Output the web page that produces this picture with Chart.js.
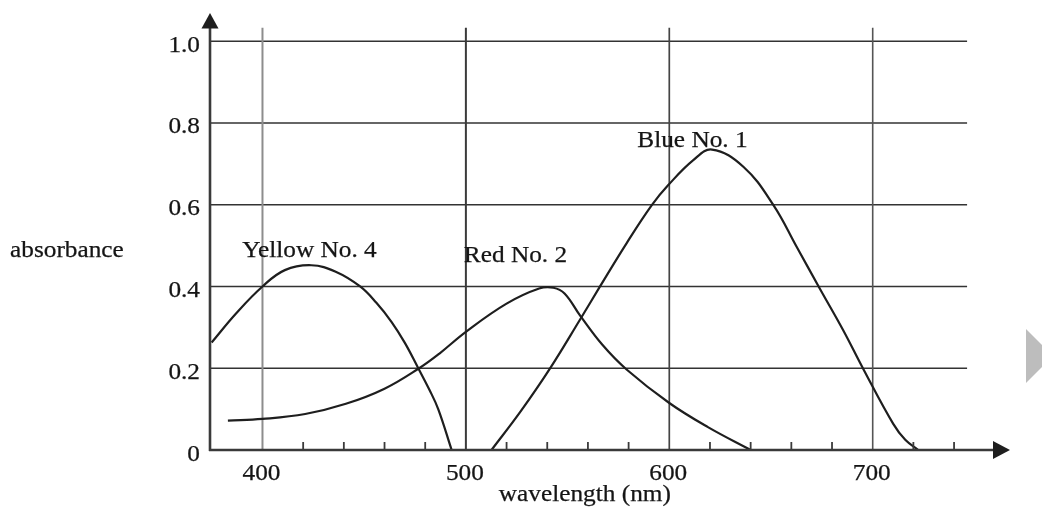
<!DOCTYPE html>
<html>
<head>
<meta charset="utf-8">
<script src="https://cdn.jsdelivr.net/npm/chart.js@4.4.1/dist/chart.umd.min.js"></script>
<style>
  html, body { margin: 0; padding: 0; background: #fff; overflow: hidden; }
  #wrap { position: relative; width: 1042px; height: 510px; }
  #next {
    position: absolute; left: 1026px; top: 329px; width: 0; height: 0;
    border-left: 27px solid #bdbdbd;
    border-top: 27px solid transparent;
    border-bottom: 27px solid transparent;
  }
</style>
</head>
<body>
<div id="wrap">
  <canvas id="chart" width="1042" height="510"></canvas>
  <div id="next"></div>
</div>
<script>
// Absorption spectra of three food dyes
const wavelengthTicks = [400, 500, 600, 700];
const wavelengthMinor = [420, 440, 460, 480, 520, 540, 560, 580, 620, 640, 660, 680, 720, 740];
const absorbanceTicks = [0, 0.2, 0.4, 0.6, 0.8, 1.0];
const absorbanceTickLabels = ['0', '0.2', '0.4', '0.6', '0.8', '1.0'];

const seriesNames = ['Yellow No. 4', 'Red No. 2', 'Blue No. 1'];

const yellowNm  = [375, 387, 400, 411, 424, 436, 448, 456, 463.5, 470, 476.6, 482, 486.4, 493];
const yellowAbs = [0.263, 0.334, 0.400, 0.440, 0.452, 0.436, 0.400, 0.360, 0.313, 0.262, 0.200, 0.148, 0.100, 0];

const redNm  = [383, 400, 421, 441, 460, 477, 487, 500, 520, 536, 543, 548.5, 556, 567, 579, 600, 619, 640];
const redAbs = [0.072, 0.076, 0.088, 0.113, 0.150, 0.200, 0.236, 0.289, 0.358, 0.395, 0.397, 0.383, 0.330, 0.258, 0.197, 0.115, 0.056, 0];

const blueNm  = [512.6, 527, 541.3, 556, 565.8, 578.9, 591.4, 599.5, 611.8, 621, 636.4, 651.2, 662.6, 674.1, 685.5, 695.3, 710.1, 716, 722.4];
const blueAbs = [0, 0.095, 0.199, 0.318, 0.399, 0.505, 0.599, 0.648, 0.709, 0.735, 0.693, 0.599, 0.497, 0.394, 0.293, 0.199, 0.064, 0.025, 0];

// where each curve name sits, in (wavelength, absorbance) units: text centre / baseline
const nameAnchors = [[423.1, 0.472], [524.4, 0.459], [611.4, 0.741]];

const X_MIN = 374.2, X_MAX = 767.5;   // axis runs out to the arrow tip
const Y_MIN = 0, Y_MAX = 1.069;
const GRID_TOP = 1.033;               // vertical grid lines stop here
const GRID_RIGHT = 746.4;             // horizontal grid lines stop here
const INK = '#151515';
const FONT = '23px "Liberation Serif", "Times New Roman", serif';
const STRETCH = 1.1;

function pts(xs, ys) { return xs.map((x, i) => ({ x: x, y: ys[i] })); }

function text(ctx, str, x, y, align) {
  ctx.save();
  ctx.translate(x, y);
  ctx.scale(STRETCH, 1);
  ctx.textAlign = align;
  ctx.textBaseline = 'alphabetic';
  ctx.fillText(str, 0, 0);
  ctx.lineWidth = 0.25;
  ctx.strokeStyle = INK;
  ctx.strokeText(str, 0, 0);
  ctx.restore();
}

function line(ctx, x1, y1, x2, y2, color, width) {
  ctx.beginPath();
  ctx.strokeStyle = color;
  ctx.lineWidth = width;
  ctx.moveTo(x1, y1);
  ctx.lineTo(x2, y2);
  ctx.stroke();
}

const gridPlugin = {
  id: 'spectrumGrid',
  beforeDatasetsDraw(chart) {
    const { ctx, scales: { x, y } } = chart;
    const x0 = x.getPixelForValue(X_MIN);
    const y0 = y.getPixelForValue(0);
    ctx.save();
    // horizontal grid
    absorbanceTicks.forEach(v => {
      if (v === 0) return;
      const py = y.getPixelForValue(v);
      line(ctx, x0, py, x.getPixelForValue(GRID_RIGHT), py, '#333', 1.6);
    });
    // vertical grid
    const vStyles = { 400: ['#8d8d8d', 2], 500: ['#3a3a3a', 2], 600: ['#444', 1.7], 700: ['#555', 1.6] };
    wavelengthTicks.forEach(v => {
      const px = x.getPixelForValue(v);
      const s = vStyles[v] || ['#444', 1.6];
      line(ctx, px, y0, px, y.getPixelForValue(GRID_TOP), s[0], s[1]);
    });
    ctx.restore();
  },
  afterDatasetsDraw(chart) {
    const { ctx, scales: { x, y } } = chart;
    const x0 = x.getPixelForValue(X_MIN);
    const y0 = y.getPixelForValue(0);
    const xTip = x.getPixelForValue(X_MAX);
    const yTip = y.getPixelForValue(Y_MAX);
    ctx.save();
    // axes
    line(ctx, x0, y0 + 1, x0, yTip + 14, '#3a3a3a', 2.6);
    line(ctx, x0 - 1, y0, xTip - 16, y0, '#3a3a3a', 2.6);
    ctx.fillStyle = '#1e1e1e';
    ctx.beginPath();
    ctx.moveTo(x0, yTip);
    ctx.lineTo(x0 + 8.5, yTip + 15.5);
    ctx.lineTo(x0 - 8.5, yTip + 15.5);
    ctx.closePath();
    ctx.fill();
    ctx.beginPath();
    ctx.moveTo(xTip, y0);
    ctx.lineTo(xTip - 17, y0 - 9);
    ctx.lineTo(xTip - 17, y0 + 9);
    ctx.closePath();
    ctx.fill();
    // minor ticks on the wavelength axis
    wavelengthMinor.forEach(v => {
      const px = x.getPixelForValue(v);
      line(ctx, px, y0, px, y0 - 8, '#3a3a3a', 1.8);
    });
    // tick labels
    ctx.fillStyle = INK;
    ctx.font = FONT;
    absorbanceTicks.forEach((v, i) => {
      text(ctx, absorbanceTickLabels[i], x0 - 10, y.getPixelForValue(v) + 10.5, 'right');
    });
    wavelengthTicks.forEach(v => {
      text(ctx, String(v), x.getPixelForValue(v) - 1, y0 + 29.5, 'center');
    });
    // axis titles
    text(ctx, 'absorbance', 10, 257, 'left');
    text(ctx, 'wavelength (nm)', x.getPixelForValue(558.5), y0 + 50.5, 'center');
    // curve names
    seriesNames.forEach((name, i) => {
      const a = nameAnchors[i];
      text(ctx, name, x.getPixelForValue(a[0]), y.getPixelForValue(a[1]), 'center');
    });
    ctx.restore();
  }
};

const curveStyle = {
  borderColor: '#1e1e1e',
  borderWidth: 2.2,
  pointRadius: 0,
  fill: false,
  tension: 0.4,
  clip: false
};

new Chart(document.getElementById('chart'), {
  type: 'line',
  data: {
    datasets: [
      Object.assign({ label: seriesNames[0], data: pts(yellowNm, yellowAbs) }, curveStyle),
      Object.assign({ label: seriesNames[1], data: pts(redNm, redAbs) }, curveStyle),
      Object.assign({ label: seriesNames[2], data: pts(blueNm, blueAbs) }, curveStyle)
    ]
  },
  options: {
    responsive: false,
    animation: false,
    devicePixelRatio: 1,
    layout: { padding: { left: 210, right: 32, top: 13, bottom: 60 } },
    scales: {
      x: { type: 'linear', min: X_MIN, max: X_MAX, display: false },
      y: { type: 'linear', min: Y_MIN, max: Y_MAX, display: false }
    },
    plugins: { legend: { display: false }, tooltip: { enabled: false } },
    events: []
  },
  plugins: [gridPlugin]
});
</script>
</body>
</html>
